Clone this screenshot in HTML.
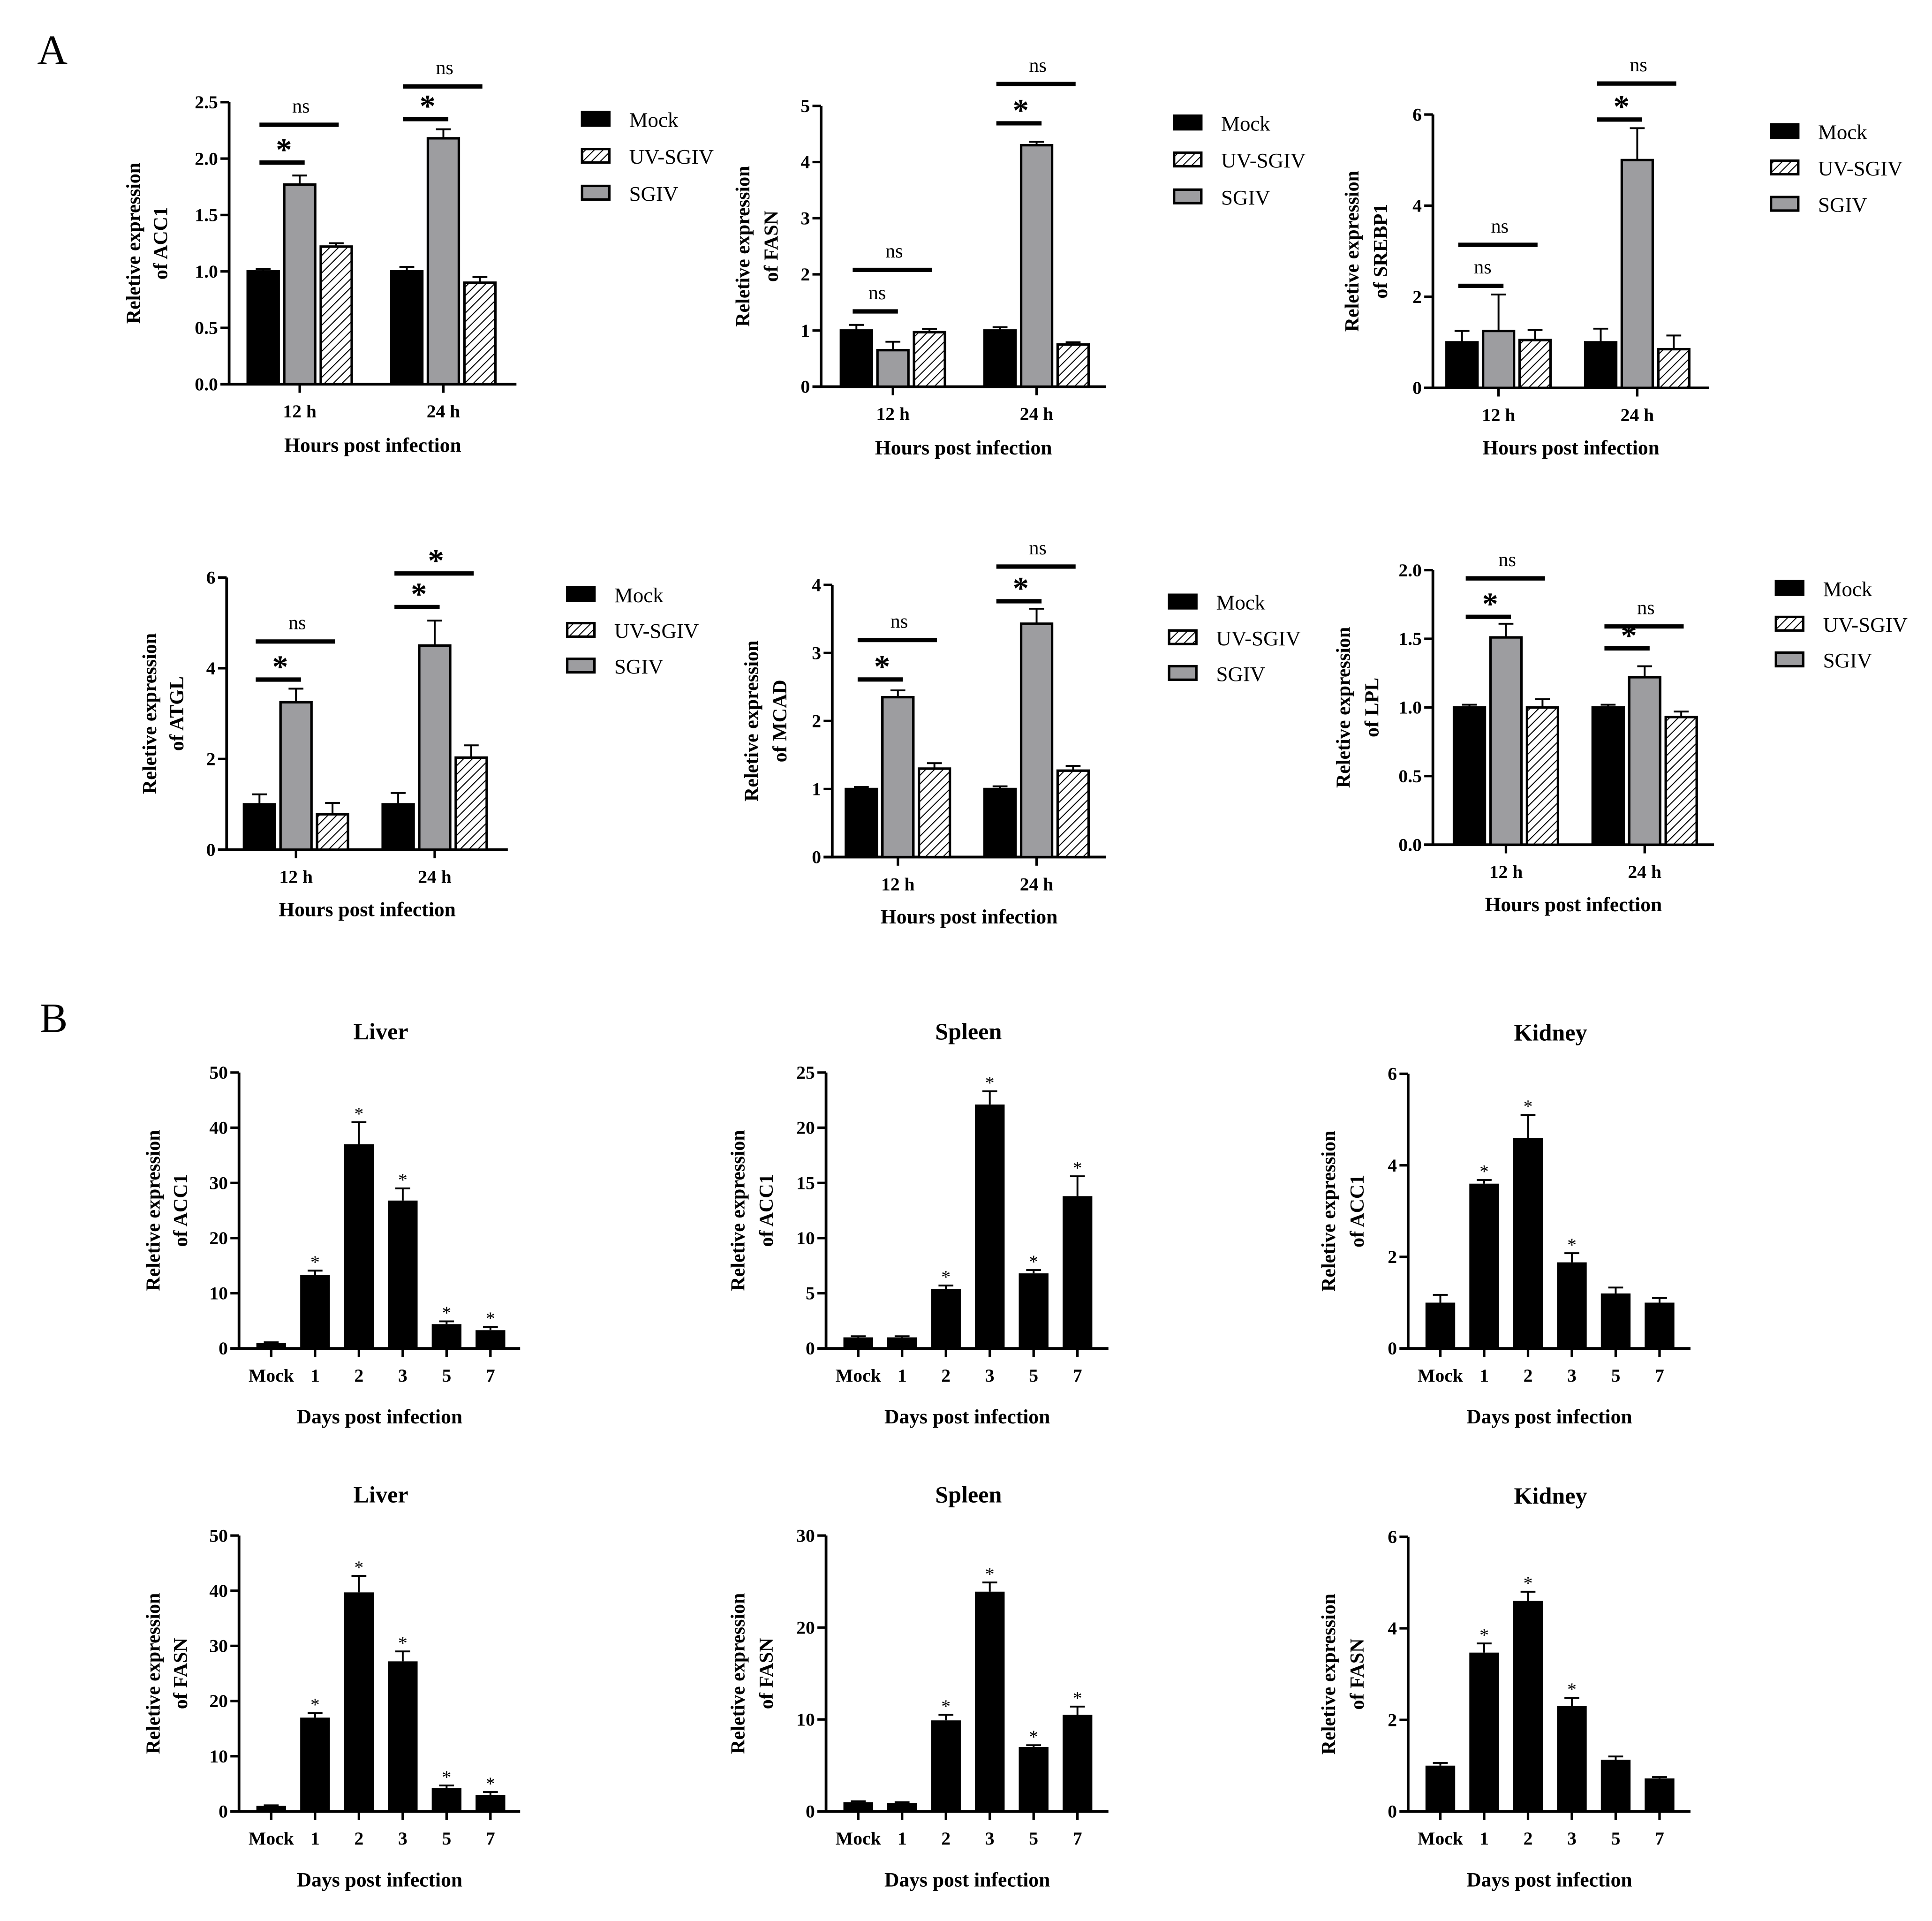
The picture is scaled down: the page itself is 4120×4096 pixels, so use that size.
<!DOCTYPE html>
<html><head><meta charset="utf-8"><style>
html,body{margin:0;padding:0;background:#fff;}
svg{display:block;}
text{font-family:"Liberation Serif",serif;fill:#000;}
</style></head><body>
<svg id="fig" xmlns="http://www.w3.org/2000/svg" width="4120" height="4096" viewBox="0 0 1560 1560" preserveAspectRatio="none">
<defs>
<pattern id="hatch" patternUnits="userSpaceOnUse" width="5" height="5" patternTransform="rotate(45)">
<rect width="5" height="5" fill="#fff"/><line x1="0" y1="0" x2="0" y2="5" stroke="#000" stroke-width="1.6"/>
</pattern>
</defs>
<text x="30" y="52" font-size="34">A</text>
<text x="32" y="838" font-size="34">B</text>
</svg>
<script>
// ---- Section A data ----
const groupCats = ["12 h", "24 h"];
const seriesNames = ["Mock", "UV-SGIV", "SGIV"];
// values per group: [Mock, SGIV, UV-SGIV] in drawing order
const acc1Vals = [[1.0, 1.77, 1.22], [1.0, 2.18, 0.90]];
const acc1Errs = [[0.02, 0.08, 0.03], [0.04, 0.08, 0.05]];
const acc1Ticks = ["0.0", "0.5", "1.0", "1.5", "2.0", "2.5"];
const acc1Sig = [["*", "ns"], ["*", "ns"]];
const acc1SigLv = [[1.965, 2.30], [2.35, 2.64]];

const fasnVals = [[1.0, 0.65, 0.97], [1.0, 4.30, 0.75]];
const fasnErrs = [[0.10, 0.15, 0.06], [0.06, 0.06, 0.04]];
const fasnTicks = ["0", "1", "2", "3", "4", "5"];
const fasnSig = [["ns", "ns"], ["*", "ns"]];
const fasnSigLv = [[1.34, 2.08], [4.69, 5.39]];

const srebpVals = [[1.0, 1.25, 1.05], [1.0, 5.0, 0.85]];
const srebpErrs = [[0.25, 0.80, 0.22], [0.30, 0.70, 0.30]];
const srebpTicks = ["0", "2", "4", "6"];
const srebpSig = [["ns", "ns"], ["*", "ns"]];
const srebpSigLv = [[2.24, 3.14], [5.89, 6.68]];

const atglVals = [[1.0, 3.25, 0.78], [1.0, 4.50, 2.03]];
const atglErrs = [[0.22, 0.30, 0.25], [0.25, 0.55, 0.27]];
const atglTicks = ["0", "2", "4", "6"];
const atglSig = [["*", "ns"], ["*", "*"]];
const atglSigLv = [[3.75, 4.59], [5.35, 6.09]];

const mcadVals = [[1.0, 2.35, 1.30], [1.0, 3.43, 1.27]];
const mcadErrs = [[0.03, 0.10, 0.08], [0.04, 0.22, 0.07]];
const mcadTicks = ["0", "1", "2", "3", "4"];
const mcadSig = [["*", "ns"], ["*", "ns"]];
const mcadSigLv = [[2.61, 3.19], [3.76, 4.27]];

const lplVals = [[1.0, 1.51, 1.0], [1.0, 1.22, 0.93]];
const lplErrs = [[0.02, 0.10, 0.06], [0.02, 0.08, 0.04]];
const lplTicks = ["0.0", "0.5", "1.0", "1.5", "2.0"];
const lplSig = [["*", "ns"], ["*", "ns"]];
const lplSigLv = [[1.66, 1.94], [1.43, 1.59]];

// ---- Section B data ----
const dayCats = ["Mock", "1", "2", "3", "5", "7"];
const liverAccVals = [1.0, 13.3, 37.0, 26.8, 4.4, 3.3];
const liverAccErrs = [0.1, 0.8, 4.0, 2.2, 0.5, 0.6];
const liverAccStar = [0, 1, 1, 1, 1, 1];
const spleenAccVals = [1.0, 1.0, 5.4, 22.1, 6.8, 13.8];
const spleenAccErrs = [0.1, 0.1, 0.3, 1.2, 0.3, 1.8];
const spleenAccStar = [0, 0, 1, 1, 1, 1];
const kidneyAccVals = [1.0, 3.6, 4.6, 1.88, 1.2, 1.0];
const kidneyAccErrs = [0.17, 0.08, 0.5, 0.2, 0.13, 0.1];
const kidneyAccStar = [0, 1, 1, 1, 0, 0];
const liverFasVals = [1.0, 17.0, 39.7, 27.2, 4.2, 3.0];
const liverFasErrs = [0.1, 0.8, 3.0, 1.8, 0.5, 0.5];
const liverFasStar = [0, 1, 1, 1, 1, 1];
const spleenFasVals = [1.0, 0.9, 9.9, 23.9, 7.0, 10.5];
const spleenFasErrs = [0.1, 0.1, 0.6, 1.0, 0.2, 0.9];
const spleenFasStar = [0, 0, 1, 1, 1, 1];
const kidneyFasVals = [1.0, 3.47, 4.6, 2.3, 1.13, 0.72];
const kidneyFasErrs = [0.06, 0.2, 0.2, 0.18, 0.07, 0.03];
const kidneyFasStar = [0, 1, 1, 1, 0, 0];
const ticks50 = ["0", "10", "20", "30", "40", "50"];
const ticks25 = ["0", "5", "10", "15", "20", "25"];
const ticks30 = ["0", "10", "20", "30"];
const ticks6 = ["0", "2", "4", "6"];

const svg = document.getElementById('fig');
const NS = 'http://www.w3.org/2000/svg';
function mk(tag, attrs, parent, txt) {
  const e = document.createElementNS(NS, tag);
  for (const k in attrs) e.setAttribute(k, attrs[k]);
  if (txt !== undefined) e.textContent = txt;
  (parent || svg).appendChild(e);
  return e;
}

function axes(g, o, ticks, cats, catX, xTitle, yTitle1, yTitle2) {
  const ymax = parseFloat(ticks[ticks.length - 1]);
  const yS = v => o.y0 - (v / ymax) * (o.y0 - o.yt);
  const ya = mk('line', {x1: o.x0, y1: o.yt, x2: o.x0, y2: o.y0 + 1, stroke: '#000', 'stroke-width': 2.2}, g);
  
  
  const xa = mk('line', {x1: o.x0 - 7, y1: o.y0, x2: o.x1, y2: o.y0, stroke: '#000', 'stroke-width': 2.2}, g);
  
  
  ticks.forEach(t => {
    const y = yS(parseFloat(t));
    mk('line', {x1: o.x0 - 7, y1: y, x2: o.x0, y2: y, stroke: '#000', 'stroke-width': 2}, g);
    const tl = mk('text', {x: o.x0 - 9, y: y + 5, 'font-size': 15, 'font-weight': 'bold', 'text-anchor': 'end'}, g, t);
    
    
  });
  cats.forEach((c, i) => {
    const x = catX(i);
    mk('line', {x1: x, y1: o.y0, x2: x, y2: o.y0 + 7, stroke: '#000', 'stroke-width': 2}, g);
    const cl = mk('text', {x: x, y: o.y0 + 27, 'font-size': 15, 'font-weight': 'bold', 'text-anchor': 'middle'}, g, c);
    
    
  });
  const xt = mk('text', {x: (o.x0 + o.x1) / 2, y: o.y0 + o.xtOff, 'font-size': 16.5, 'font-weight': 'bold', 'text-anchor': 'middle'}, g, xTitle);
  
  
  const yc = (o.y0 + o.yt) / 2;
  const y1 = mk('text', {x: 0, y: 0, 'font-size': 16, 'font-weight': 'bold', 'text-anchor': 'middle', transform: `translate(${o.x0 + o.yl1},${yc}) rotate(-90)`}, g, yTitle1);
  
  
  const y2 = mk('text', {x: 0, y: 0, 'font-size': 16, 'font-weight': 'bold', 'text-anchor': 'middle', transform: `translate(${o.x0 + o.yl2},${yc}) rotate(-90)`}, g, yTitle2);
  
  
  return yS;
}

function errBar(g, x, yTop, yErr, hw) {
  mk('line', {x1: x, y1: yTop, x2: x, y2: yErr, stroke: '#000', 'stroke-width': 1.5}, g);
  mk('line', {x1: x - hw, y1: yErr, x2: x + hw, y2: yErr, stroke: '#000', 'stroke-width': 1.5}, g);
}

function groupedChart(name, o, vals, errs, ticks, sig, sigLv, gene) {
  const g = mk('g', {});
  
  
  const catX = i => o.c0 + i * o.dc;
  const yS = axes(g, o, ticks, groupCats, catX, 'Hours post infection', 'Reletive expression', 'of ' + gene);
  const fills = ['#000', '#9d9da0', 'url(#hatch)'];
  const offs = [-29.5, 0, 29.5];
  const bw = 25;
  vals.forEach((gv, gi) => {
    gv.forEach((v, si) => {
      const cx = catX(gi) + offs[si];
      const yv = yS(v);
      const b = mk('rect', {x: cx - bw / 2, y: yv, width: bw, height: o.y0 - yv, fill: fills[si], stroke: '#000', 'stroke-width': 2}, g);
      
      
      errBar(g, cx, yv, yS(v + errs[gi][si]), 6);
    });
    const xm = catX(gi) + offs[0], xs = catX(gi) + offs[1] + 4, xu = catX(gi) + offs[2] + 2;
    [[xs, 0], [xu, 1]].forEach(([xe, k]) => {
      const y = yS(sigLv[gi][k]);
      const ln = mk('line', {x1: xm - 3, y1: y, x2: xe, y2: y, stroke: '#000', 'stroke-width': 3.5}, g);
      
      
      const s = sig[gi][k];
      const t = mk('text', {x: (xm + xe) / 2, y: s === '*' ? y - 2 : y - 10, 'font-size': s === '*' ? 26 : 16, 'font-weight': s === '*' ? 'bold' : 'normal', 'text-anchor': 'middle', 'font-family': s === '*' ? '"Liberation Sans",sans-serif' : '"Liberation Serif",serif'}, g, s);
      
      
    });
  });
  const lg = mk('g', {}, g);
  
  
  const lf = ['#000', 'url(#hatch)', '#9d9da0'];
  seriesNames.forEach((s, i) => {
    const y = o.ly + i * o.ldy;
    mk('rect', {x: o.lx, y: y - 6, width: 22, height: 11, fill: lf[i], stroke: '#000', 'stroke-width': 2}, lg);
    const t = mk('text', {x: o.lx + 38, y: y + 6, 'font-size': 17}, lg, s);
    
    
  });
}

function dayChart(name, o, vals, errs, stars, ticks, title, gene) {
  const g = mk('g', {});
  
  
  const catX = i => o.x0 + 26 + i * 35.4;
  const yS = axes(g, o, ticks, dayCats, catX, 'Days post infection', 'Reletive expression', 'of ' + gene);
  const tt = mk('text', {x: (o.x0 + o.x1) / 2 + 1, y: o.yt - 27, 'font-size': 19, 'font-weight': 'bold', 'text-anchor': 'middle'}, g, title);
  
  
  vals.forEach((v, i) => {
    const cx = catX(i), yv = yS(v);
    const b = mk('rect', {x: cx - 12, y: yv, width: 24, height: o.y0 - yv, fill: '#000'}, g);
    
    
    const ye = yS(v + errs[i]);
    errBar(g, cx, yv, ye, 6);
    if (stars[i]) {
      const s = mk('text', {x: cx, y: ye - 2, 'font-size': 15, 'text-anchor': 'middle'}, g, '*');
      
      
    }
  });
}

groupedChart('acc1-cell', {x0: 185, x1: 417, y0: 312, yt: 83, c0: 242, dc: 116, xtOff: 55, yl1: -72, yl2: -50, lx: 470, ly: 97, ldy: 30}, acc1Vals, acc1Errs, acc1Ticks, acc1Sig, acc1SigLv, 'ACC1');
groupedChart('fasn-cell', {x0: 663, x1: 893, y0: 314, yt: 86, c0: 721, dc: 116, xtOff: 55, yl1: -58, yl2: -35, lx: 948, ly: 100, ldy: 30}, fasnVals, fasnErrs, fasnTicks, fasnSig, fasnSigLv, 'FASN');
groupedChart('srebp1-cell', {x0: 1157, x1: 1380, y0: 315, yt: 93, c0: 1210, dc: 112, xtOff: 54, yl1: -60, yl2: -37, lx: 1430, ly: 107, ldy: 29.5}, srebpVals, srebpErrs, srebpTicks, srebpSig, srebpSigLv, 'SREBP1');
groupedChart('atgl-cell', {x0: 183, x1: 410, y0: 690, yt: 469, c0: 239, dc: 112, xtOff: 54, yl1: -57, yl2: -35, lx: 458, ly: 483, ldy: 29}, atglVals, atglErrs, atglTicks, atglSig, atglSigLv, 'ATGL');
groupedChart('mcad-cell', {x0: 672, x1: 893, y0: 696, yt: 475, c0: 725, dc: 112, xtOff: 54, yl1: -60, yl2: -37, lx: 944, ly: 489, ldy: 29}, mcadVals, mcadErrs, mcadTicks, mcadSig, mcadSigLv, 'MCAD');
groupedChart('lpl-cell', {x0: 1157, x1: 1384, y0: 686, yt: 463, c0: 1216, dc: 112, xtOff: 54, yl1: -67, yl2: -44, lx: 1434, ly: 478, ldy: 29}, lplVals, lplErrs, lplTicks, lplSig, lplSigLv, 'LPL');

dayChart('liver-acc1', {x0: 193, x1: 420, y0: 1095, yt: 871, xtOff: 61, yl1: -64, yl2: -42}, liverAccVals, liverAccErrs, liverAccStar, ticks50, 'Liver', 'ACC1');
dayChart('spleen-acc1', {x0: 667, x1: 895, y0: 1095, yt: 871, xtOff: 61, yl1: -66, yl2: -43}, spleenAccVals, spleenAccErrs, spleenAccStar, ticks25, 'Spleen', 'ACC1');
dayChart('kidney-acc1', {x0: 1137, x1: 1365, y0: 1095, yt: 872, xtOff: 61, yl1: -59, yl2: -36}, kidneyAccVals, kidneyAccErrs, kidneyAccStar, ticks6, 'Kidney', 'ACC1');
dayChart('liver-fasn', {x0: 193, x1: 420, y0: 1471, yt: 1247, xtOff: 61, yl1: -64, yl2: -42}, liverFasVals, liverFasErrs, liverFasStar, ticks50, 'Liver', 'FASN');
dayChart('spleen-fasn', {x0: 667, x1: 895, y0: 1471, yt: 1247, xtOff: 61, yl1: -66, yl2: -43}, spleenFasVals, spleenFasErrs, spleenFasStar, ticks30, 'Spleen', 'FASN');
dayChart('kidney-fasn', {x0: 1137, x1: 1365, y0: 1471, yt: 1248, xtOff: 61, yl1: -59, yl2: -36}, kidneyFasVals, kidneyFasErrs, kidneyFasStar, ticks6, 'Kidney', 'FASN');
</script>
</body></html>
